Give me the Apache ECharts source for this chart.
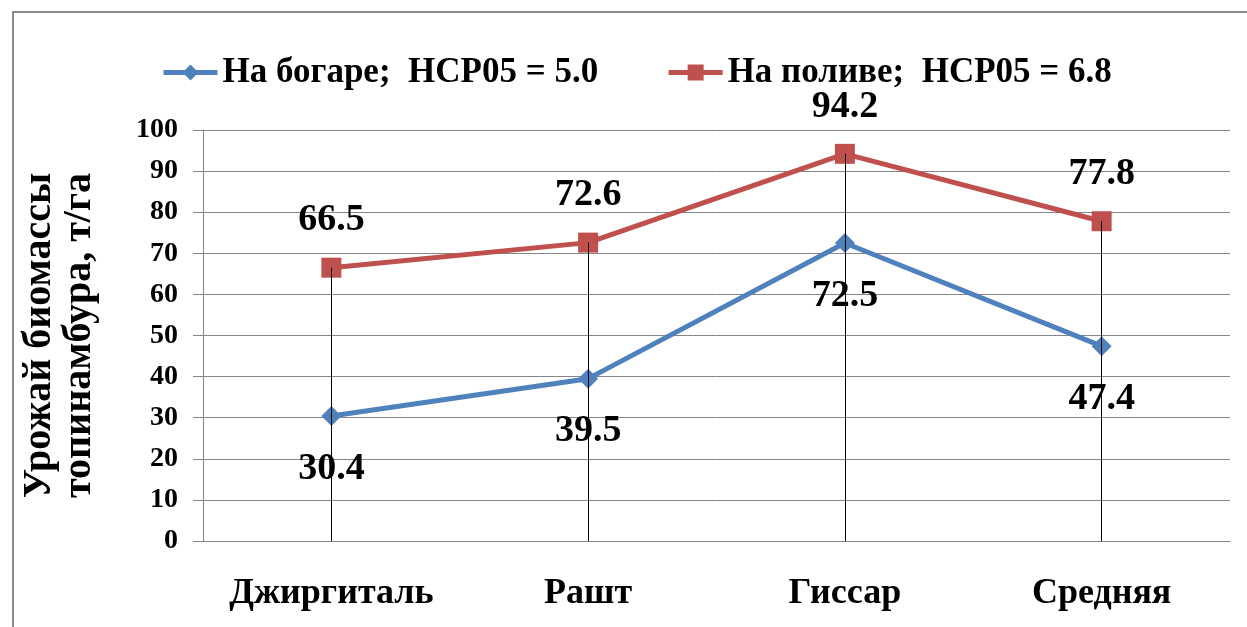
<!DOCTYPE html>
<html>
<head>
<meta charset="utf-8">
<script src="https://cdn.jsdelivr.net/npm/echarts@6/dist/echarts.min.js"></script>
<style>
  html, body { margin: 0; padding: 0; background: #fff; }
  #chart { width: 1247px; height: 627px; }
</style>
</head>
<body>
<div id="chart"></div>
<script>
// Biomass yield of Jerusalem artichoke by location, t/ha
const categories = ['Джиргиталь', 'Рашт', 'Гиссар', 'Средняя'];
const rainfed = [30.4, 39.5, 72.5, 47.4];
const irrigated = [66.5, 72.6, 94.2, 77.8];
const seriesNames = ['На богаре;  НСР05 = 5.0', 'На поливе;  НСР05 = 6.8'];
const yTicks = { min: 0, max: 100, interval: 10 };
const yTitle = 'Урожай биомассы\nтопинамбура, т/га';

const FONT = '"Liberation Serif", "Times New Roman", serif';
const BLUE = '#4F81BD';
const RED = '#C0504D';

// vertical drop lines from the highest point of each category to the axis
const dropLines = categories.map((c, i) => [
  { xAxis: i, yAxis: Math.max(rainfed[i], irrigated[i]) },
  { xAxis: i, yAxis: 0 }
]);

const chart = echarts.init(document.getElementById('chart'), null, { renderer: 'canvas' });
chart.setOption({
  animation: false,
  backgroundColor: '#fff',
  graphic: [{
    type: 'rect',
    shape: { x: 13, y: 12, width: 1260, height: 640 },
    style: { fill: 'none', stroke: '#8c8c8c', lineWidth: 2 },
    silent: true
  }],
  legend: {
    top: 50,
    left: 156,
    itemGap: 68,
    itemWidth: 54,
    itemHeight: 20,
    lineStyle: { width: 5 },
    textStyle: { fontFamily: FONT, fontWeight: 'bold', fontSize: 35, color: '#000' },
    data: seriesNames
  },
  grid: { left: 203, right: 17, top: 130, bottom: 86, outerBoundsMode: 'none' },
  xAxis: {
    type: 'category',
    data: categories,
    boundaryGap: true,
    axisLine: { lineStyle: { color: '#868686', width: 1 } },
    axisTick: { show: false },
    axisLabel: {
      interval: 0,
      margin: 35,
      fontFamily: FONT, fontWeight: 'bold', fontSize: 36, color: '#000'
    }
  },
  yAxis: {
    type: 'value',
    min: yTicks.min, max: yTicks.max, interval: yTicks.interval,
    name: yTitle,
    nameLocation: 'middle',
    nameRotate: 90,
    nameGap: 103,
    nameTextStyle: {
      fontFamily: FONT, fontWeight: 'bold', fontSize: 40, color: '#000',
      lineHeight: 40, align: 'center'
    },
    axisLine: { show: true, lineStyle: { color: '#868686', width: 1 } },
    axisTick: { show: true, length: 10, lineStyle: { color: '#868686' } },
    splitLine: { show: true, lineStyle: { color: '#868686', width: 1 } },
    axisLabel: {
      margin: 25,
      fontFamily: FONT, fontWeight: 'bold', fontSize: 28, color: '#000'
    }
  },
  series: [
    {
      name: seriesNames[0],
      type: 'line',
      data: rainfed,
      symbol: 'diamond',
      symbolSize: 20,
      lineStyle: { color: BLUE, width: 5 },
      itemStyle: { color: BLUE },
      label: {
        show: true, position: 'bottom', distance: 24,
        fontFamily: FONT, fontWeight: 'bold', fontSize: 38, color: '#000',
        formatter: p => p.value.toFixed(1)
      },
      z: 3
    },
    {
      name: seriesNames[1],
      type: 'line',
      data: irrigated,
      symbol: 'rect',
      symbolSize: 20,
      lineStyle: { color: RED, width: 5 },
      itemStyle: { color: RED },
      label: {
        show: true, position: 'top', distance: 18,
        fontFamily: FONT, fontWeight: 'bold', fontSize: 38, color: '#000',
        formatter: p => p.value.toFixed(1)
      },
      markLine: {
        silent: true,
        symbol: 'none',
        label: { show: false },
        lineStyle: { color: '#000', width: 1, type: 'solid' },
        data: dropLines,
        z: 5
      },
      z: 4
    }
  ]
});
</script>
</body>
</html>
